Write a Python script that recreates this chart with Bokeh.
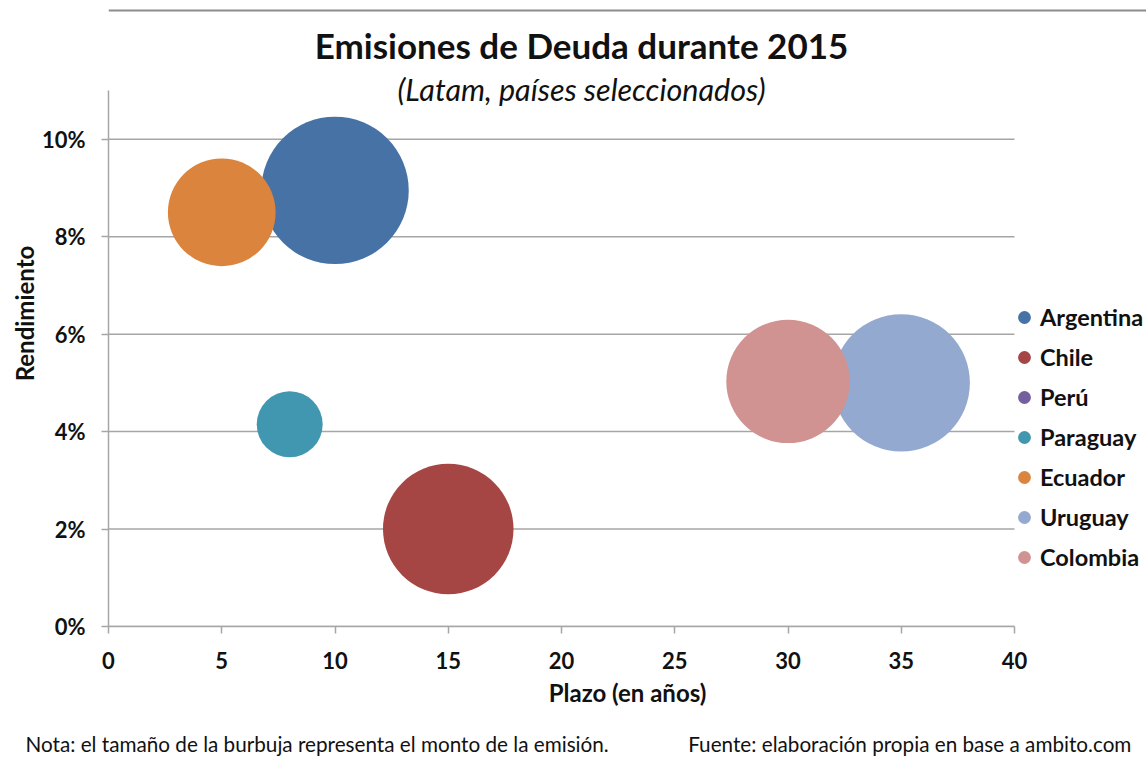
import math
from bokeh.plotting import figure
from bokeh.models import (ColumnDataSource, Range1d, FixedTicker, NumeralTickFormatter,
                          Label, Legend, LegendItem, Span)
from bokeh.embed import file_html
from bokeh.resources import INLINE

# ---------------- data ----------------
countries = ["Argentina", "Chile", "Perú", "Paraguay", "Ecuador", "Uruguay", "Colombia"]
plazo = [10, 15, None, 8, 5, 35, 30]                       # años
rendimiento = [0.0895, 0.020, None, 0.0415, 0.085, 0.050, 0.0503]
monto = [3000, 2350, None, 600, 1600, 2600, 2100]          # tamaño de burbuja
colors = ["#4672A6", "#A64644", "#74609E", "#4197AF", "#DB843D", "#93A9CF", "#D19392"]
x_ticks = [0, 5, 10, 15, 20, 25, 30, 35, 40]
y_ticks = [0, 0.02, 0.04, 0.06, 0.08, 0.10]
x_lim = (0, 40)
y_lim = (0, 0.11)

title_text = "Emisiones de Deuda durante 2015"
subtitle_text = "(Latam, países seleccionados)"
nota_text = "Nota: el tamaño de la burbuja representa el monto de la emisión."
fuente_text = "Fuente: elaboración propia en base a ambito.com"

# ---------------- layout constants (canvas px) ----------------
W, H = 1146, 763
FL, FB = 108, 626            # frame left / bottom
AX_R, AX_T = 1014, 90        # where x=40 and y=11% fall
FONT = "Lato"
TXT = "#111111"
GRID = "#A6A6A6"

px_per_x = (AX_R - FL) / (x_lim[1] - x_lim[0])
px_per_y = (FB - AX_T) / (y_lim[1] - y_lim[0])
x_end = x_lim[0] + (W - FL) / px_per_x
y_end = y_lim[0] + FB / px_per_y

p = figure(width=W, height=H, output_backend="svg", toolbar_location=None,
           x_range=Range1d(x_lim[0], x_end), y_range=Range1d(y_lim[0], y_end),
           min_border_left=FL, min_border_top=0,
           min_border_right=0, min_border_bottom=H - FB)
p.outline_line_color = None
p.background_fill_color = "white"
p.border_fill_color = "white"
p.xgrid.visible = False
p.ygrid.visible = False

p.xaxis.ticker = FixedTicker(ticks=x_ticks)
p.yaxis.ticker = FixedTicker(ticks=y_ticks)
p.xaxis.bounds = x_lim
p.yaxis.bounds = y_lim
p.yaxis.formatter = NumeralTickFormatter(format="0%")
for ax in (p.xaxis, p.yaxis):
    ax.axis_line_color = GRID
    ax.axis_line_width = 1.5
    ax.major_tick_line_color = GRID
    ax.major_tick_line_width = 1.5
    ax.major_tick_out = 7
    ax.major_tick_in = 0
    ax.minor_tick_line_color = None
    ax.major_label_text_font = FONT
    ax.major_label_text_font_style = "bold"
    ax.major_label_text_font_size = "22px"
    ax.major_label_text_color = TXT
    ax.axis_label_text_font = FONT
    ax.axis_label_text_font_style = "bold"
    ax.axis_label_text_font_size = "24px"
    ax.axis_label_text_color = TXT
p.xaxis.axis_label = "Plazo (en años)"
p.yaxis.axis_label = "Rendimiento"
p.xaxis.major_label_standoff = 18
p.yaxis.major_label_standoff = 16
p.xaxis.axis_label_standoff = 6
p.yaxis.axis_label_standoff = 0

# horizontal gridlines, limited to the axis extent
p.segment(x0=[x_lim[0]] * len(y_ticks), x1=[x_lim[1]] * len(y_ticks),
          y0=y_ticks, y1=y_ticks, line_color=GRID, line_width=1.5)

# ---------------- bubbles ----------------
MAX_R = 73.75
mmax = max(m for m in monto if m is not None)
nan = float("nan")
items = []
for name, xv, yv, m, c in zip(countries, plazo, rendimiento, monto, colors):
    if m is None:
        src = ColumnDataSource(dict(x=[nan], y=[nan], size=[0.0]))
    else:
        src = ColumnDataSource(dict(x=[xv], y=[yv], size=[2 * MAX_R * math.sqrt(m / mmax)]))
    r = p.scatter(x="x", y="y", size="size", source=src, marker="circle",
                  fill_color=c, fill_alpha=1.0, line_color=None)
    items.append(LegendItem(label=name, renderers=[r]))

legend = Legend(items=items, location=(1008 - FL, FB - 573), orientation="vertical", ncols=1,
                glyph_width=32, glyph_height=32, label_height=32, spacing=8,
                padding=0, margin=0, label_standoff=-4,
                border_line_color=None, background_fill_alpha=0,
                label_text_font=FONT, label_text_font_style="bold",
                label_text_font_size="23.5px", label_text_color=TXT,
                label_text_baseline="middle")
p.add_layout(legend)

# ---------------- title / subtitle (inside the frame area) ----------------
p.add_layout(Label(x=581 - FL, y=FB - 44, x_units="screen", y_units="screen",
                   text=title_text, text_font=FONT, text_font_style="bold",
                   text_font_size="35px", text_align="center",
                   text_baseline="middle", text_color=TXT))
p.add_layout(Label(x=581 - FL, y=FB - 88, x_units="screen", y_units="screen",
                   text=subtitle_text, text_font=FONT, text_font_style="italic",
                   text_font_size="30.5px", text_align="center",
                   text_baseline="middle", text_color=TXT))

# outer chart border (top edge)
p.add_layout(Span(location=y_lim[0] + (FB - 10) / px_per_y, dimension="width",
                  line_color="#8C8C8C", line_width=2))

# ---------------- footnote line (below panel) ----------------
foot = nota_text + "\u00a0" * 15 + fuente_text
p.add_layout(Label(x=25 - FL, y=-10, x_units="screen", y_units="screen",
                   text=foot, text_font=FONT, text_font_size="20.7px",
                   text_align="left", text_baseline="alphabetic",
                   text_color=TXT), "below")

open("out.html", "w").write(file_html(p, INLINE))
